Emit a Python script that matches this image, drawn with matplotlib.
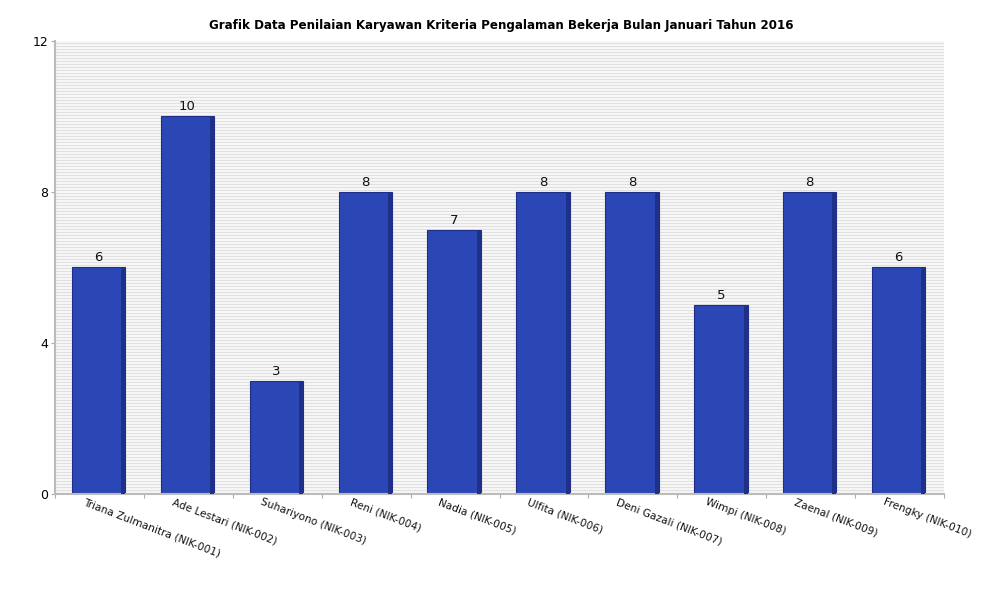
import matplotlib
matplotlib.use("Agg")
import matplotlib.pyplot as plt
import numpy as np

title = "Grafik Data Penilaian Karyawan Kriteria Pengalaman Bekerja Bulan Januari Tahun 2016"
names = ["Triana Zulmanitra (NIK-001)", "Ade Lestari (NIK-002)", "Suhariyono (NIK-003)",
         "Reni (NIK-004)", "Nadia (NIK-005)", "Ulfita (NIK-006)", "Deni Gazali (NIK-007)",
         "Wimpi (NIK-008)", "Zaenal (NIK-009)", "Frengky (NIK-010)"]
values = [6, 10, 3, 8, 7, 8, 8, 5, 8, 6]
yticks = [0, 4, 8, 12]

fig = plt.figure(figsize=(10, 6), dpi=100)
ax = fig.add_axes([0.055, 0.1767, 0.889, 0.755])

ymax = 12
ax.set_xlim(-0.5, len(names) - 0.5)
ax.set_ylim(0, ymax)

# striped background
ax.set_facecolor("#f6f6f6")
step = 12 / 453 * 3
for y0 in np.arange(0, ymax, step):
    ax.axhspan(y0, y0 + step * 0.45, color="#e0e0e0", lw=0, zorder=0)

x = np.arange(len(names))
w = 0.6
shade = 0.045
ax.bar(x - 0.01, values, width=w, color="#2b46b5", edgecolor="#1f2f88", linewidth=0.8, zorder=2)
ax.bar(x - 0.01 + w / 2 - shade, values, width=shade, align="edge", color="#1f3088",
       linewidth=0, zorder=3)

for xi, v in zip(x, values):
    ax.text(xi - 0.01, v + 0.08, str(v), ha="center", va="bottom", fontsize=9.5, color="#111111")

ax.set_yticks(yticks)
ax.set_yticklabels([str(t) for t in yticks], fontsize=9)
ax.tick_params(axis="y", length=3, color="#aaaaaa", pad=2)

ax.set_xticks(np.arange(-0.5, len(names), 1.0))
ax.set_xticklabels([])
ax.tick_params(axis="x", length=3, color="#aaaaaa")

for xi, n in zip(x, names):
    ax.text(xi - 0.16, -0.08, n, rotation=-21, rotation_mode="anchor", ha="left", va="top",
            fontsize=7.6, color="#111111", transform=ax.transData, clip_on=False)

for s in ["top", "right"]:
    ax.spines[s].set_visible(False)
for s in ["left", "bottom"]:
    ax.spines[s].set_color("#bbbbbb")
    ax.spines[s].set_linewidth(1.5)

fig.text(0.501, 0.958, title, ha="center", va="center", fontsize=8.6, fontweight="bold")

fig.savefig("out.png", dpi=100, facecolor="white")
